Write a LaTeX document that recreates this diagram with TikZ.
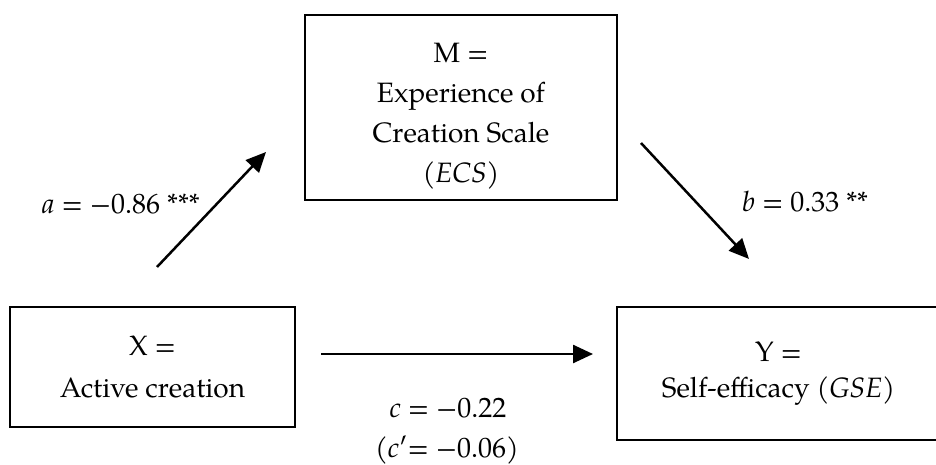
\documentclass[tikz,border=0pt]{standalone}
\usepackage{fontspec}
\setmainfont{TeX Gyre Pagella}
\usetikzlibrary{arrows.meta, positioning}
\newcommand{\LW}{1.25pt}
\tikzset{
  varbox/.style={draw, line width=0.9pt, inner sep=0pt, align=center, font=\fontsize{14}{20}\selectfont},
  patharrow/.style={line width=\LW, -{Triangle[length=10pt, width=9pt]}},
  coef/.style={anchor=base, font=\fontsize{14}{16}\selectfont}
}

\begin{document}
\begin{tikzpicture}[x=0.5pt, y=-0.5pt]
	\useasboundingbox (0,0) rectangle (936,465);

    \node[varbox, minimum width=156pt, minimum height=92.5pt] (med) at (461,107.5)
      {\rule{0pt}{18pt}M =\\ Experience of\\ Creation Scale\\ \textit{(ECS)}};
    \node[varbox, minimum width=142.5pt, minimum height=60pt, font=\fontsize{14}{21}\selectfont] (pred) at (152.5,367)
      {X =\\ Active creation};
    \node[varbox, minimum width=161.5pt, minimum height=66.5pt, font=\fontsize{14}{18}\selectfont] (outc) at (778.5,373.5)
      {Y =\\ Self-efficacy (\textit{GSE})};

    % free ends of the paths
    \coordinate (a0) at (157,267);
    \coordinate (a1) at (266,152);
    \coordinate (b0) at (641,143);
    \coordinate (b1) at (749,259);
    \coordinate (c0) at (321,354);
    \coordinate (c1) at (593,354);

    \draw[patharrow] (a0) -- (a1);
    \draw[patharrow] (b0) -- (b1);
    \draw[patharrow] (c0) -- (c1);

    \node[coef, anchor=base east] (alab) at (207,213) {\textit{a} = −0.86 ***};
    \node[coef, anchor=base west] (blab) at (735,211) {\textit{b} = 0.33 **};
    \node[coef] (clab) at (448,417) {\textit{c} = −0.22};
    \node[coef] (cplab) at (447,457) {(\textit{c}′= −0.06)};
\end{tikzpicture}
\end{document}
